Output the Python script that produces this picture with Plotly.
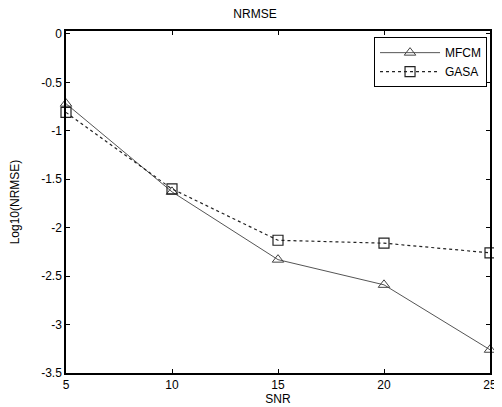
import plotly.graph_objects as go

snr = [5, 10, 15, 20, 25]
mfcm = [-0.72, -1.63, -2.33, -2.59, -3.26]
gasa = [-0.81, -1.60, -2.13, -2.16, -2.26]
y_tickvals = [0, -0.5, -1, -1.5, -2, -2.5, -3, -3.5]
y_ticktext = ["0", "-0.5", "-1", "-1.5", "-2", "-2.5", "-3", "-3.5"]
x_tickvals = [5, 10, 15, 20, 25]

fig = go.Figure()
fig.add_trace(go.Scatter(
    x=snr, y=mfcm, name="MFCM", mode="lines+markers",
    line=dict(color="#555555", width=1),
    marker=dict(symbol="triangle-up-open", size=10, color="#444444", line=dict(width=1)),
    cliponaxis=False))
fig.add_trace(go.Scatter(
    x=snr, y=gasa, name="GASA", mode="lines+markers",
    line=dict(color="#222222", width=1.2, dash="dot"),
    marker=dict(symbol="square-open", size=10, color="#222222", line=dict(width=1.2)),
    cliponaxis=False))

axis_common = dict(
    showgrid=False, zeroline=False, showline=True, linecolor="black", linewidth=1.5,
    mirror="ticks", ticks="inside", ticklen=4, tickcolor="black",
    tickfont=dict(family="Liberation Sans, Arial", size=12, color="black"),
)

# page body has an 8px default margin, so the figure is sized to fit the window
fig.update_layout(
    width=494, height=399,
    margin=dict(l=49, r=5, t=23, b=34),
    paper_bgcolor="white", plot_bgcolor="white",
    font=dict(family="Liberation Sans, Arial", size=12, color="black"),
    title=dict(text="NRMSE", x=0.5, xanchor="center", y=0.985, yanchor="middle",
               font=dict(size=12)),
    xaxis=dict(range=[5, 25], tickvals=x_tickvals,
               title=dict(text="SNR", standoff=0, font=dict(size=12)), **axis_common),
    yaxis=dict(range=[-3.5, 0.03], tickvals=y_tickvals, ticktext=y_ticktext,
               title=dict(text="Log10(NRMSE)", standoff=20, font=dict(size=12)), **axis_common),
    legend=dict(x=0.993, y=0.982, xanchor="right", yanchor="top",
                bordercolor="black", borderwidth=1, bgcolor="white",
                font=dict(size=12), tracegroupgap=0, itemwidth=60),
    showlegend=True,
)

fig.write_html("out.html")
